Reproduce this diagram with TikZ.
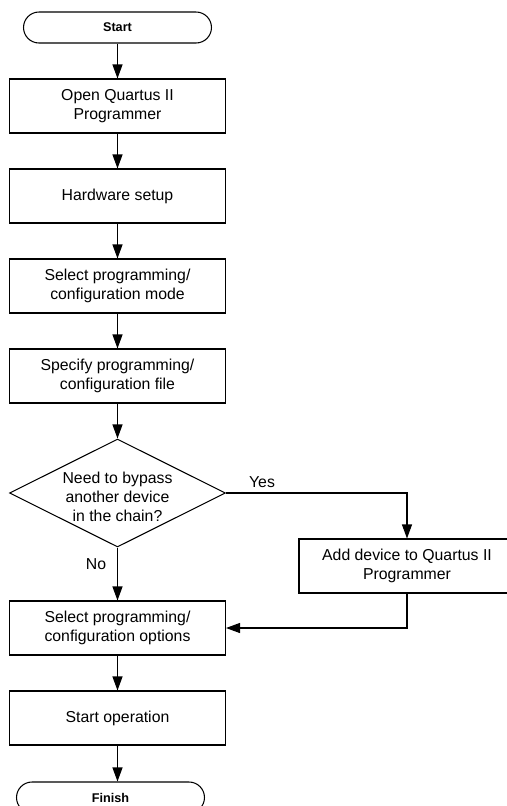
\documentclass[tikz,border=0pt]{standalone}
\usepackage{fontspec}
\setmainfont{Liberation Sans}
\usetikzlibrary{arrows.meta,shapes.geometric}

\begin{document}
\begin{tikzpicture}[x=.02cm,y=-.02cm,
  stepbox/.style={draw=black,line width=.6pt,minimum width=4.32cm,minimum height=1.08cm,inner sep=0pt,align=center,font=\fontsize{9}{10.4}\selectfont},
  termbox/.style={draw=black,line width=.6pt,rounded corners=.31cm,minimum width=3.76cm,minimum height=.62cm,inner sep=0pt,font=\bfseries\fontsize{7.2}{8.5}\selectfont},
  decbox/.style={draw=black,line width=.6pt,diamond,minimum width=4.32cm,minimum height=2.16cm,inner sep=0pt},
  flow/.style={-{Triangle[length=2.8mm,width=2mm]},draw=black,line width=.6pt},
  lbl/.style={font=\fontsize{9}{10.4}\selectfont,inner sep=0pt}]
\useasboundingbox (0,0) rectangle (507,806);
\clip (0,0) rectangle (507,806);
\node[termbox] (start) at (117.5,27.5) {Start};
\node[stepbox] (openqp) at (117.5,106) {Open Quartus II\\Programmer};
\node[stepbox] (hwsetup) at (117.5,196) {Hardware setup};
\node[stepbox] (selmode) at (117.5,286) {Select programming/\\configuration mode};
\node[stepbox] (specfile) at (117.5,376) {Specify programming/\\configuration file};
\node[decbox] (bypass) at (117.5,493) {};
\node[lbl,align=center,font=\fontsize{9}{11}\selectfont] (bypasstxt) at (117.5,497) {Need to bypass\\another device\\in the chain?};
\node[stepbox] (adddev) at (407,566) {Add device to Quartus II\\Programmer};
\node[stepbox] (selopt) at (117.5,628) {Select programming/\\configuration options};
\node[stepbox] (startop) at (117.5,718) {Start operation};
\node[termbox] (finish) at (110.5,797.5) {Finish};
\node[lbl] (yes) at (262,482) {Yes};
\node[lbl] (no) at (96,564) {No};
\draw[flow] (start) -- (openqp);
\draw[flow] (openqp) -- (hwsetup);
\draw[flow] (hwsetup) -- (selmode);
\draw[flow] (selmode) -- (specfile);
\draw[flow] (specfile) -- (bypass);
\draw[flow] (bypass.east) -| (adddev.north);
\draw[flow] (bypass.south) -- (selopt.north);
\draw[flow] (adddev.south) |- (selopt.east);
\draw[flow] (selopt) -- (startop);
\draw[flow] (startop.south) -- (startop.south |- finish.north);
\end{tikzpicture}
\end{document}
